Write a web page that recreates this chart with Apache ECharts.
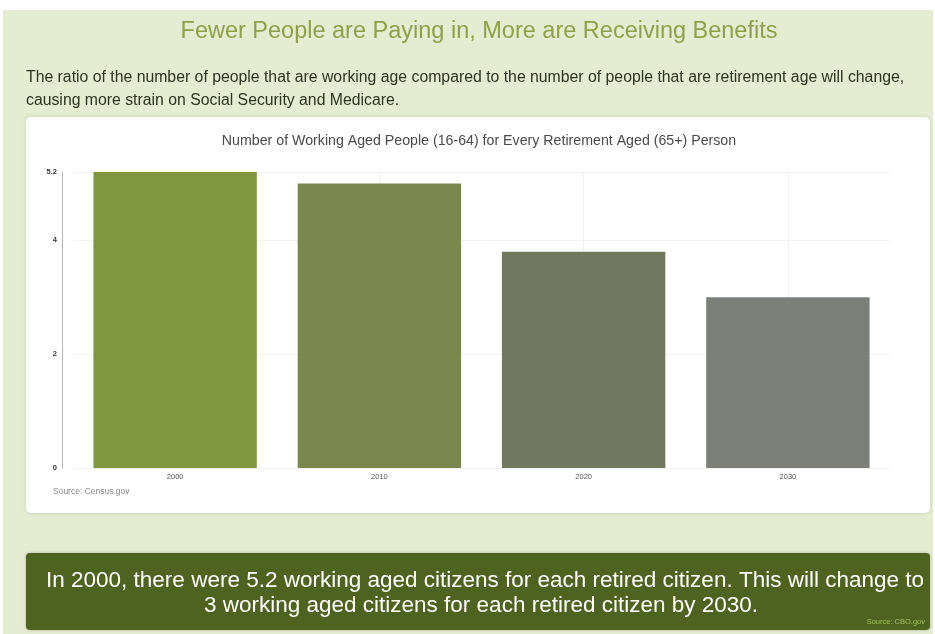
<!DOCTYPE html>
<html>
<head>
<meta charset="utf-8">
<script src="https://cdn.jsdelivr.net/npm/echarts@6/dist/echarts.min.js"></script>
<style>
  html, body { margin: 0; padding: 0; background: #ffffff; }
  #chart { width: 935px; height: 634px; }
</style>
</head>
<body>
<div id="chart"></div>
<script>
// Working-age people per retirement-age person, by year
const years = ['2000', '2010', '2020', '2030'];
const ratios = [5.2, 5.0, 3.8, 3.0];
const barColors = ['#7f983f', '#7a8850', '#72785f', '#7c8078'];
const yTicks = [0, 2, 4, 5.2];

const pageTitle = 'Fewer People are Paying in, More are Receiving Benefits';
const introLines = [
  'The ratio of the number of people that are working age compared to the number of people that are retirement age will change,',
  'causing more strain on Social Security and Medicare.'
];
const chartTitle = 'Number of Working Aged People (16-64) for Every Retirement Aged (65+) Person';
const summaryLines = [
  'In 2000, there were 5.2 working aged citizens for each retired citizen. This will change to',
  '3 working aged citizens for each retired citizen by 2030.'
];

const font = 'Liberation Sans, Arial, sans-serif';
const chart = echarts.init(document.getElementById('chart'));

const textEl = (text, x, y, size, fill, align) => ({
  type: 'text', x: x, y: y,
  style: { text: text, fill: fill, font: size + 'px ' + font, align: align || 'left', verticalAlign: 'middle' }
});

chart.setOption({
  animation: false,
  backgroundColor: '#ffffff',
  graphic: [
    { type: 'rect', z: -10, shape: { x: 3, y: 10, width: 930, height: 624 },
      style: { fill: '#e4edd1' } },
    { type: 'rect', z: -9, shape: { x: 26, y: 117, width: 904, height: 396, r: 5 },
      style: { fill: '#ffffff', shadowBlur: 4, shadowColor: 'rgba(0,0,0,0.12)' } },
    { type: 'rect', z: -9, shape: { x: 26, y: 553, width: 904, height: 77, r: 4 },
      style: { fill: '#4f6320', shadowBlur: 3, shadowColor: 'rgba(0,0,0,0.25)' } },
    textEl(pageTitle, 479, 32, 23.5, '#8ea14a', 'center'),
    textEl(introLines[0], 26, 78, 15.8, '#2f3320'),
    textEl(introLines[1], 26, 101, 15.8, '#2f3320'),
    textEl(chartTitle, 479, 141, 14.2, '#4a4a4a', 'center'),
    textEl('Source: Census.gov', 53, 492, 8.5, '#8a8a8a'),
    textEl(summaryLines[0], 485, 581, 22.5, '#ffffff', 'center'),
    textEl(summaryLines[1], 481, 606, 22.5, '#ffffff', 'center'),
    textEl('Source: CBO.gov', 925, 622, 7.5, '#9fc15a', 'right')
  ],
  grid: { left: 73, right: 45, top: 172, bottom: 166, containLabel: false },
  xAxis: {
    type: 'category',
    data: years,
    axisLine: { show: false },
    axisTick: { show: false },
    axisLabel: { color: '#555', fontSize: 7.5, fontFamily: font, margin: 5 },
    splitLine: { show: true, alignWithLabel: true, lineStyle: { color: '#f2f2f2', width: 1 } }
  },
  yAxis: {
    type: 'value',
    min: 0,
    max: 5.2,
    interval: 2,
    offset: 11,
    axisLine: { show: true, lineStyle: { color: '#b5b5b5', width: 1 } },
    axisTick: { show: false },
    axisLabel: {
      color: '#333', fontSize: 7.5, fontWeight: 'bold', fontFamily: font, margin: 5,
      formatter: v => (yTicks.some(t => Math.abs(t - v) < 1e-6) ? String(v) : '')
    },
    splitLine: { show: true, lineStyle: { color: '#f2f2f2', width: 1 } }
  },
  series: [{
    type: 'bar',
    data: ratios.map((v, i) => ({ value: v, itemStyle: { color: barColors[i] } })),
    barWidth: '80%'
  }]
});
</script>
</body>
</html>
